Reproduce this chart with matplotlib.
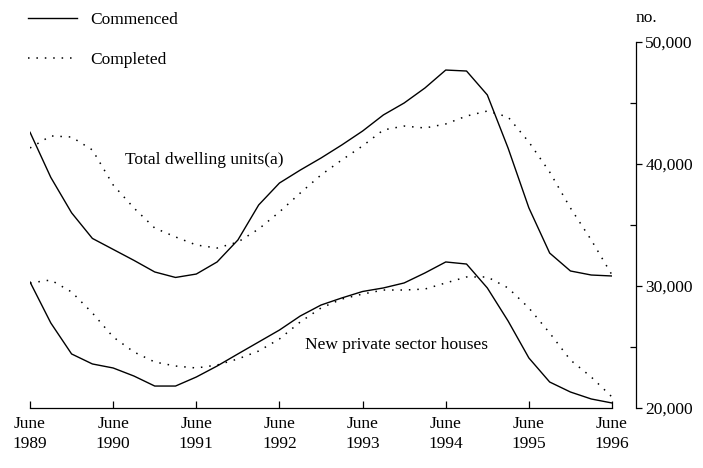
import numpy as np
import matplotlib.pyplot as plt
from matplotlib.ticker import MultipleLocator, FuncFormatter

plt.rcParams['font.family'] = ['Liberation Serif', 'DejaVu Serif']
plt.rcParams['font.size'] = 12.5

# quarterly, June 1989 .. June 1996
quarters = np.arange(29) / 4 + 1989

total_commenced = [42600, 38900, 36000, 33900, 33000, 32100, 31150, 30700, 30980,
                   31970, 33770, 36640, 38440, 39500, 40490, 41560, 42700, 44020,
                   45000, 46230, 47700, 47620, 45660, 41300, 36400, 32700, 31230,
                   30900, 30820]
total_completed = [41310, 42300, 42210, 41150, 38280, 36390, 34750, 34020, 33360,
                   33110, 33600, 34670, 36070, 37620, 39100, 40330, 41480, 42790,
                   43110, 42950, 43280, 43930, 44340, 43850, 41800, 39340, 36390,
                   33770, 30900]
houses_commenced = [30330, 26970, 24430, 23610, 23280, 22620, 21800, 21800, 22540,
                    23440, 24430, 25410, 26390, 27540, 28440, 29020, 29550, 29840,
                    30250, 31070, 31970, 31800, 29840, 27130, 24100, 22130, 21310,
                    20740, 20410]
houses_completed = [30250, 30490, 29510, 27790, 25820, 24590, 23770, 23440, 23280,
                    23520, 24020, 24670, 25660, 27050, 28200, 28930, 29340, 29670,
                    29670, 29750, 30250, 30740, 30740, 29840, 28200, 26150, 23930,
                    22540, 20900]

years = np.arange(1989, 1997)
year_labels = ['June\n%d' % y for y in years]

fig = plt.figure(figsize=(7.03, 4.68), dpi=100)
ax = fig.add_axes([0.0427, 0.1282, 0.8279, 0.7821])

dots = (0, (1, 4.5))
ax.plot(quarters, total_commenced, color='black', lw=1.0, label='Commenced')
ax.plot(quarters, total_completed, color='black', lw=1.1, ls=dots, label='Completed')
ax.plot(quarters, houses_commenced, color='black', lw=1.0)
ax.plot(quarters, houses_completed, color='black', lw=1.1, ls=dots)

ax.set_xlim(1989, 1996)
ax.set_ylim(20000, 50000)

ax.spines['top'].set_visible(False)
ax.spines['left'].set_visible(False)
ax.spines['right'].set_position(('outward', 17))
ax.spines['bottom'].set_linewidth(0.9)
ax.spines['right'].set_linewidth(0.9)

ax.set_xticks(years)
ax.set_xticklabels(year_labels, linespacing=1.3)
ax.tick_params(axis='x', direction='in', length=5, width=0.9, pad=6)

ax.yaxis.tick_right()
ax.yaxis.set_major_locator(MultipleLocator(10000))
ax.yaxis.set_minor_locator(MultipleLocator(5000))
ax.yaxis.set_major_formatter(FuncFormatter(lambda v, p: '{:,.0f}'.format(v)))
ax.tick_params(axis='y', which='major', direction='out', length=4, width=0.9, pad=3)
ax.tick_params(axis='y', which='minor', direction='in', length=4, width=0.9)

ax.text(0.30, 0.678, 'Total dwelling units(a)', transform=ax.transAxes,
        ha='center', va='center')
ax.text(0.629, 0.172, 'New private sector houses', transform=ax.transAxes,
        ha='center', va='center')
fig.text(646 / 703, 1 - 18 / 468, 'no.', ha='center', va='center')

fig.legend(loc='upper left', bbox_to_anchor=(0.04, 0.975), frameon=False,
           borderpad=0, borderaxespad=0, handlelength=2.8, handletextpad=0.8,
           labelspacing=1.4)

fig.savefig('out.png', dpi=100)
